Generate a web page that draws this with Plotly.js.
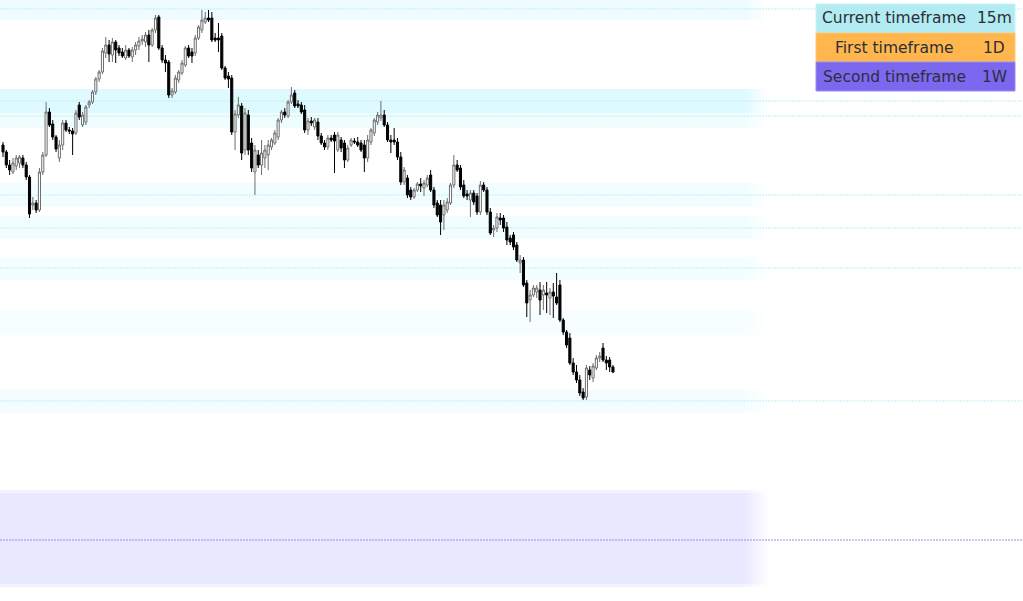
<!DOCTYPE html>
<html>
<head>
<meta charset="utf-8">
<script src="https://cdn.plot.ly/plotly-3.0.1.min.js"></script>
<style>html,body{margin:0;padding:0;background:#fff;}#chart{width:1023px;height:601px;}</style>
</head>
<body>
<div id="chart"></div>
<script>
// ---- candle data (15m bars) ----
const openP = [
455,448,435,428,434,437,442,435,423,395,
397,390,428,445,488,476,463,442,455,477,
470,469,467,495,475,478,495,498,508,521,
528,547,555,545,558,552,548,542,550,543,
550,554,559,558,565,555,570,583,552,540,
538,505,508,520,527,535,552,548,547,562,
570,578,582,582,562,562,564,532,524,522,
468,485,494,450,485,457,428,445,435,442,
445,453,457,463,480,488,484,498,507,496,
495,490,470,479,473,478,464,457,453,462,
465,450,460,457,440,455,459,458,457,455,
442,458,467,478,482,485,475,460,460,458,
443,418,422,410,403,410,416,412,415,425,
410,397,395,385,390,397,415,435,432,415,
406,400,407,404,388,415,410,388,370,372,
382,382,373,362,365,355,337,340,317,300,
305,308,310,305,307,302,308,303,315,280,
268,262,237,228,220,208,203,230,222,232,
242,252,240,240,233];
const highP = [
458,450,440,442,445,445,445,438,425,403,
400,432,448,498,492,480,465,460,480,480,
473,472,490,498,488,495,500,510,523,530,
552,563,560,562,560,555,552,555,552,553,
558,563,565,568,570,572,585,585,555,545,
540,512,525,530,540,554,555,552,565,575,
590,588,590,588,567,577,567,534,528,525,
490,503,497,492,490,462,455,450,460,455,
460,462,470,482,490,492,500,513,510,500,
498,495,482,483,482,482,467,460,465,465,
468,468,463,460,455,462,462,463,460,460,
465,472,482,488,499,490,478,465,472,462,
448,433,425,413,412,418,422,420,425,430,
413,400,400,400,402,417,445,440,435,420,
410,410,410,407,419,418,413,392,375,387,
387,385,378,365,368,358,345,343,320,310,
315,315,318,315,318,312,317,327,320,282,
270,267,242,235,225,212,235,234,237,245,
248,257,244,243,235];
const lowP = [
443,432,425,426,430,432,432,420,382,390,
387,388,425,443,473,460,448,438,450,468,
466,445,465,480,473,475,492,496,505,518,
526,542,538,538,537,544,542,540,542,538,
545,550,555,553,538,553,567,550,537,528,
502,502,506,517,525,533,542,537,544,560,
567,576,578,558,558,548,530,520,512,465,
450,482,440,445,445,428,405,432,425,432,
430,450,455,460,477,482,482,496,492,492,
486,467,465,474,470,460,455,450,450,458,
427,448,448,432,438,453,456,453,448,428,
438,455,464,475,479,473,458,447,455,440,
415,415,402,400,401,408,408,404,413,408,
392,383,365,370,387,395,412,428,410,402,
400,383,395,385,385,408,385,365,363,368,
375,368,355,355,350,338,327,313,283,278,
303,302,285,290,287,285,282,295,278,265,
252,235,225,217,204,200,200,220,218,230,
238,238,230,228,227];
const closeP = [
448,435,430,437,442,443,435,423,386,397,
390,428,445,488,475,463,451,455,477,470,
469,466,487,483,485,493,498,508,521,528,
549,555,546,558,550,547,544,550,544,550,
555,559,561,565,555,570,582,552,540,537,
505,509,522,528,537,552,544,544,562,573,
580,582,580,560,560,560,532,522,521,468,
486,495,447,487,450,432,450,435,447,450,
455,460,467,480,488,485,498,505,494,494,
488,470,479,477,480,464,457,453,462,460,
459,465,452,440,452,460,458,455,450,442,
460,470,480,485,485,475,460,458,458,443,
418,430,405,403,410,416,414,417,422,410,
395,385,378,395,398,415,435,430,413,404,
404,407,398,388,415,410,388,367,372,383,
380,372,360,358,353,340,340,315,297,305,
312,312,300,310,305,308,304,297,280,268,
255,237,228,220,207,202,232,225,234,242,
244,240,237,233,228];

// ---- zones (price levels) ----
const zoneLow   = [580, 487, 472, 393, 361, 320, 265, 187];
const zoneHigh  = [602, 511, 487, 417, 384, 343, 290, 210];
const zoneLevel = [591, 499, 484, 405, 372, 332, null, 199];
const zoneFill  = ['rgb(238,252,255)','rgb(222,250,255)','rgb(240,253,255)','rgb(242,253,255)',
                   'rgb(242,253,255)','rgb(243,254,255)','rgb(247,254,255)','rgb(243,253,255)'];
const htfLow = 13, htfHigh = 110, htfLevel = 60;

// ---- info table ----
const tableLabels = ['Current timeframe', 'First timeframe', 'Second timeframe'];
const tableValues = ['15m', '1D', '1W'];
const tableColors = ['#b2ebf2', '#ffb74d', '#7b68ee'];
const tableBorders = ['#c9f3f8', '#ffc877', '#9a8cf5'];

const W = 1023, H = 601;
const px = v => v / W;
const py = v => 1 - v / H;

const xIdx = openP.map((_, i) => i);

const shapes = [];
function band(y0, y1, color, layerOpacity) {
  const coreEnd = 745, fadeEnd = 768, steps = 6;
  shapes.push({type:'rect', xref:'paper', yref:'y', x0:0, x1:px(coreEnd), y0:y0, y1:y1,
    fillcolor:color, opacity:layerOpacity, line:{width:0}, layer:'below'});
  for (let s = 0; s < steps; s++) {
    const a = coreEnd + (fadeEnd - coreEnd) * s / steps;
    const b = coreEnd + (fadeEnd - coreEnd) * (s + 1) / steps;
    shapes.push({type:'rect', xref:'paper', yref:'y', x0:px(a), x1:px(b), y0:y0, y1:y1,
      fillcolor:color, opacity:layerOpacity * (1 - (s + 0.5) / steps), line:{width:0}, layer:'below'});
  }
}
for (let i = 0; i < zoneLow.length; i++) band(zoneLow[i], zoneHigh[i], zoneFill[i], 1);
band(htfLow + 3, htfHigh - 3, 'rgb(232,232,255)', 1);
band(htfLow, htfLow + 3, 'rgb(232,232,255)', 0.5);
band(htfHigh - 3, htfHigh, 'rgb(232,232,255)', 0.5);

for (let i = 0; i < zoneLevel.length; i++) {
  if (zoneLevel[i] === null) continue;
  shapes.push({type:'line', xref:'paper', yref:'y', x0:0, x1:1, y0:zoneLevel[i], y1:zoneLevel[i],
    line:{color:'rgb(190,238,247)', width:1, dash:'2px,1px'}, layer:'below'});
}
shapes.push({type:'line', xref:'paper', yref:'y', x0:0, x1:1, y0:htfLevel, y1:htfLevel,
  line:{color:'rgb(150,138,248)', width:1, dash:'2px,1px'}, layer:'below'});

const rowTop = [4, 33, 62], rowBot = [33, 62, 91];
const annotations = [];
for (let r = 0; r < tableLabels.length; r++) {
  shapes.push({type:'rect', xref:'paper', yref:'paper', x0:px(816), x1:px(1015), y0:py(rowBot[r]), y1:py(rowTop[r]),
    fillcolor:tableColors[r], line:{color:tableBorders[r], width:1}, layer:'above'});
  const yc = py((rowTop[r] + rowBot[r]) / 2);
  annotations.push({xref:'paper', yref:'paper', x:px(894), y:yc, text:tableLabels[r], showarrow:false,
    xanchor:'center', yanchor:'middle', font:{family:'DejaVu Sans', size:15.5, color:'#2e2e3a'}});
  annotations.push({xref:'paper', yref:'paper', x:px(994), y:yc, text:tableValues[r], showarrow:false,
    xanchor:'center', yanchor:'middle', font:{family:'DejaVu Sans', size:15.5, color:'#2e2e3a'}});
}

const trace = {
  type:'candlestick', x:xIdx, open:openP, high:highP, low:lowP, close:closeP,
  increasing:{line:{color:'#6e6e6e', width:1}, fillcolor:'#ffffff'},
  decreasing:{line:{color:'#000000', width:1}, fillcolor:'#000000'},
  whiskerwidth:0, hoverinfo:'skip'
};

const spacing = 3.315;
const x0 = -3 / spacing;
const layout = {
  width:W, height:H, margin:{l:0, r:0, t:0, b:0, pad:0},
  paper_bgcolor:'#ffffff', plot_bgcolor:'#ffffff', showlegend:false,
  boxgap:0.1,
  xaxis:{range:[x0, x0 + W / spacing], visible:false, rangeslider:{visible:false}, fixedrange:true},
  yaxis:{range:[-1, 600], visible:false, fixedrange:true},
  shapes:shapes, annotations:annotations
};
Plotly.newPlot('chart', [trace], layout, {displayModeBar:false, staticPlot:true});
</script>
</body>
</html>
